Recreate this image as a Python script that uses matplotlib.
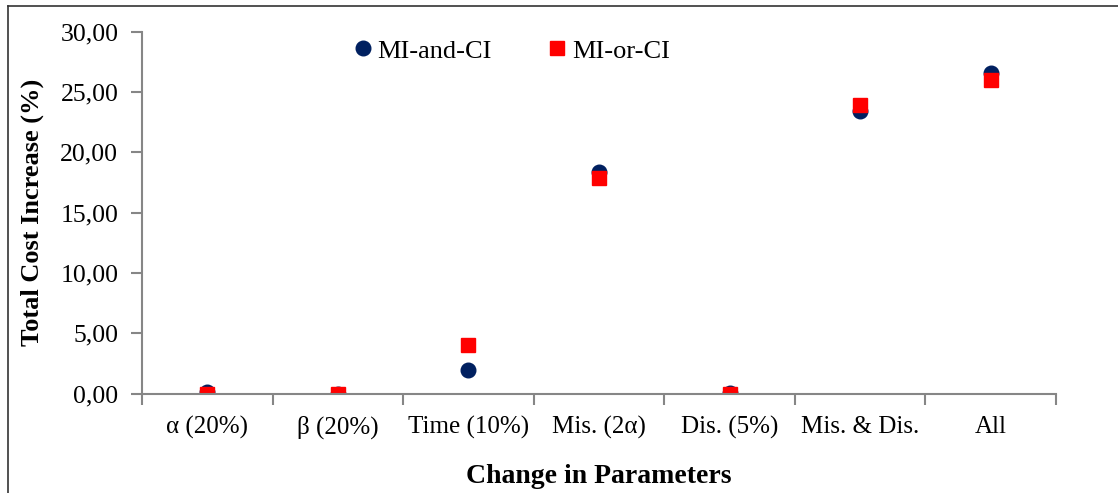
import matplotlib
matplotlib.use("Agg")
import matplotlib.pyplot as plt
from matplotlib.lines import Line2D
import numpy as np

# data
categories = ["α (20%)", "β (20%)", "Time (10%)", "Mis. (2α)", "Dis. (5%)", "Mis. & Dis.", "All"]
mi_and_ci = [0.15, 0.0, 2.0, 18.4, 0.1, 23.45, 26.55]
mi_or_ci = [0.0, 0.0, 4.0, 17.9, 0.0, 23.95, 26.0]
y_ticks = [0, 5, 10, 15, 20, 25, 30]

plt.rcParams["font.family"] = ["Liberation Serif", "DejaVu Serif"]

fig = plt.figure(figsize=(11.18, 4.93), dpi=100)
ax = fig.add_axes([0.127, 0.2014, 0.8175, 0.7343])

x = np.arange(len(categories)) + 0.5
ax.plot(x, mi_and_ci, linestyle="none", marker="o", markersize=10.5,
        color="#002060", label="MI-and-CI")
ax.plot(x, mi_or_ci, linestyle="none", marker="s", markersize=10.5,
        color="#ff0000", label="MI-or-CI")

ax.set_xlim(0, len(categories))
ax.set_ylim(0, 30)
ax.set_yticks(y_ticks)
ax.set_yticklabels([f"{v:.2f}".replace(".", ",") for v in y_ticks], fontsize=18.5)

# ticks at category edges, labels centred
ax.set_xticks(np.arange(len(categories) + 1))
ax.set_xticklabels([])
ax.set_xticks(x, minor=True)
ax.set_xticklabels(categories, minor=True, fontsize=18)
ax.tick_params(axis="x", which="minor", length=0, pad=16)
ax.tick_params(axis="x", which="major", length=8, color="#868686", width=1.5)
ax.tick_params(axis="y", length=8, color="#868686", width=1.5, pad=9)

for side in ["top", "right"]:
    ax.spines[side].set_visible(False)
for side in ["left", "bottom"]:
    ax.spines[side].set_color("#868686")
    ax.spines[side].set_linewidth(1.5)

ax.set_ylabel("Total Cost Increase (%)", fontsize=19, fontweight="bold", labelpad=12)
ax.set_xlabel("Change in Parameters", fontsize=20, fontweight="bold", labelpad=18)

ax.legend(loc="upper center", bbox_to_anchor=(0.395, 1.045), ncol=2, frameon=False,
          fontsize=19, handletextpad=-0.45, columnspacing=1.5, markerscale=1.0)

# outer frame: only top and left edges visible
fig.add_artist(Line2D([0.0072, 0.0072], [0, 0.988], transform=fig.transFigure,
                      color="#333333", linewidth=1.2))
fig.add_artist(Line2D([0.0072, 1], [0.988, 0.988], transform=fig.transFigure,
                      color="#333333", linewidth=1.2))

fig.savefig("out.png", dpi=100)
